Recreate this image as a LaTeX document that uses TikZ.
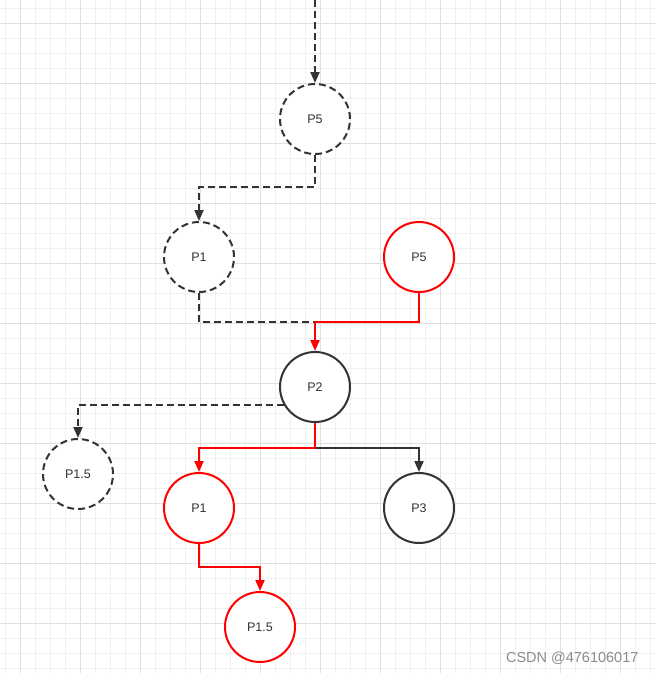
\documentclass[tikz,border=0pt]{standalone}
\usepackage{fontspec}
\setmainfont{Liberation Sans}
\usetikzlibrary{arrows.meta}
\definecolor{ink}{HTML}{333333}
\definecolor{minorgrid}{HTML}{F0F0F0}
\definecolor{majorgrid}{HTML}{E0E0E0}
\tikzset{
  proc/.style={circle, draw=ink, line width=2pt, minimum size=70pt, inner sep=0pt, font=\fontsize{12.5}{14}\selectfont, text=ink, fill=white},
  ghost/.style={proc, dash pattern=on 7pt off 4pt},
  hot/.style={proc, draw=red},
  link/.style={draw=ink, line width=2pt},
  dlink/.style={link, dash pattern=on 7pt off 4pt},
  rlink/.style={draw=red, line width=2pt},
  tip/.style={-{Triangle[length=11pt,width=9pt]}},
}
\begin{document}
\begin{tikzpicture}[x=1pt,y=-1pt]
\useasboundingbox (0,0) rectangle (656,673);
\fill[white] (0,0) rectangle (656,673);
% grid
\foreach \x in {5,20,...,656} \draw[minorgrid, line width=1pt] (\x,0) -- (\x,673);
\foreach \y in {8,23,...,673} \draw[minorgrid, line width=1pt] (0,\y) -- (656,\y);
\foreach \x in {20,80,...,656} \draw[majorgrid, line width=1pt] (\x,0) -- (\x,673);
\foreach \y in {23,83,...,673} \draw[majorgrid, line width=1pt] (0,\y) -- (656,\y);

% nodes
\node[ghost] (P5d) at (315,119) {P5};
\node[ghost] (P1d) at (199,257) {P1};
\node[hot]   (P5r) at (419,257) {P5};
\node[proc]  (P2)  at (315,387) {P2};
\node[ghost] (P15d) at (78,474) {P1.5};
\node[hot]   (P1r) at (199,508) {P1};
\node[proc]  (P3)  at (419,508) {P3};
\node[hot]   (P15r) at (260,627) {P1.5};

\coordinate (top) at (315,0);
\coordinate (b1) at (315,187);
\coordinate (m1) at (315,322);
\coordinate (s2) at (315,448);
\coordinate (b2) at (199,567);
\coordinate (l2) at (283.5,404.5);

% connectors
\draw[dlink, tip] (top) -- (P5d);
\draw[dlink, tip] (P5d.south) -- (b1) -| (P1d);
\draw[dlink] (P1d.south) |- (m1);
\draw[link, tip] (s2) -| (P3);
\draw[rlink] (P5r.south) |- (m1);
\draw[rlink, tip] (m1) -- (P2);
\draw[rlink, tip] (P2.south) -- (s2) -| (P1r);
\draw[dlink, tip] (l2) -| (P15d);
\draw[rlink, tip] (P1r.south) -- (b2) -| (P15r);

\node[text=black!45, font=\fontsize{14.5}{16}\selectfont, anchor=east] (wm) at (642,658) {CSDN @476106017};
\end{tikzpicture}
\end{document}
